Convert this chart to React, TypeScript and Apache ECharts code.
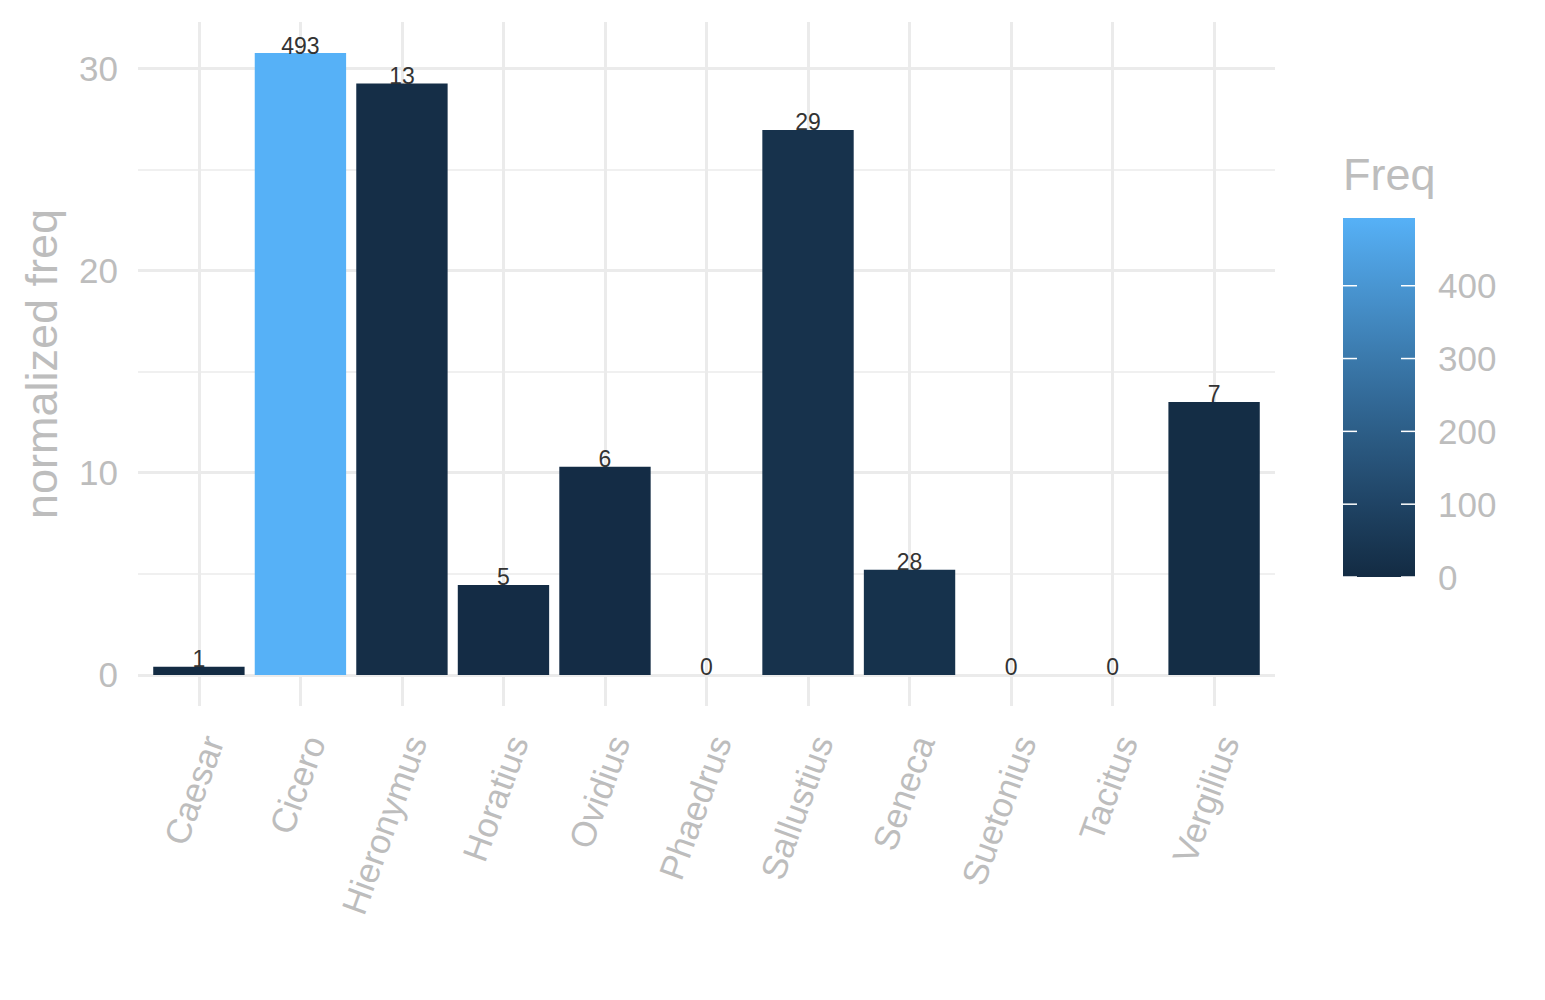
import React, { useEffect, useRef } from 'react';
import * as echarts from 'echarts';

const authors = ['Caesar', 'Cicero', 'Hieronymus', 'Horatius', 'Ovidius', 'Phaedrus', 'Sallustius', 'Seneca', 'Suetonius', 'Tacitus', 'Vergilius'];
const normFreq = [0.4, 30.75, 29.25, 4.45, 10.3, 0, 26.95, 5.2, 0, 0, 13.5];
const freq = [1, 493, 13, 5, 6, 0, 29, 28, 0, 0, 7];
const yTicks = [0, 10, 20, 30];
const yMinorTicks = [5, 15, 25];
const legendTicks = [0, 100, 200, 300, 400];

const LOW = '#132B43';
const HIGH = '#56B1F7';
const GREY = '#BDBDBD';
const GRID = '#EBEBEB';
const FONT = '"Liberation Sans", Arial, Helvetica, sans-serif';

function hexToRgb(h: string) {
  const n = parseInt(h.slice(1), 16);
  return [(n >> 16) & 255, (n >> 8) & 255, n & 255];
}
function toLin(c: number) {
  c /= 255;
  return c <= 0.04045 ? c / 12.92 : Math.pow((c + 0.055) / 1.055, 2.4);
}
function fromLin(c: number) {
  const v = c <= 0.0031308 ? 12.92 * c : 1.055 * Math.pow(c, 1 / 2.4) - 0.055;
  return Math.round(Math.max(0, Math.min(1, v)) * 255);
}
function rgbToLab(rgb: number[]) {
  const R = toLin(rgb[0]), G = toLin(rgb[1]), B = toLin(rgb[2]);
  const X = (0.4124 * R + 0.3576 * G + 0.1805 * B) / 0.95047;
  const Y = 0.2126 * R + 0.7152 * G + 0.0722 * B;
  const Z = (0.0193 * R + 0.1192 * G + 0.9505 * B) / 1.08883;
  const f = (t: number) => (t > 0.008856 ? Math.cbrt(t) : 7.787 * t + 16 / 116);
  const fx = f(X), fy = f(Y), fz = f(Z);
  return [116 * fy - 16, 500 * (fx - fy), 200 * (fy - fz)];
}
function labToHex(lab: number[]) {
  const fy = (lab[0] + 16) / 116;
  const fx = fy + lab[1] / 500;
  const fz = fy - lab[2] / 200;
  const inv = (t: number) => (t * t * t > 0.008856 ? t * t * t : (t - 16 / 116) / 7.787);
  const X = inv(fx) * 0.95047, Y = inv(fy), Z = inv(fz) * 1.08883;
  const R = 3.2406 * X - 1.5372 * Y - 0.4986 * Z;
  const G = -0.9689 * X + 1.8758 * Y + 0.0415 * Z;
  const B = 0.0557 * X - 0.204 * Y + 1.057 * Z;
  const h = (v: number) => fromLin(v).toString(16).padStart(2, '0');
  return '#' + h(R) + h(G) + h(B);
}
const labLow = rgbToLab(hexToRgb(LOW));
const labHigh = rgbToLab(hexToRgb(HIGH));
const gradientStops: string[] = [];
for (let i = 0; i <= 10; i++) {
  const t = i / 10;
  gradientStops.push(labToHex(labLow.map((v, k) => v + (labHigh[k] - v) * t)));
}

export default function App() {
  const ref = useRef<HTMLDivElement>(null);
  useEffect(() => {
    if (!ref.current) return;
    const chart = echarts.init(ref.current, undefined, { renderer: 'svg' });

    const dataMax = Math.max(...normFreq);
    const yMin = -0.05 * dataMax;
    const yMax = dataMax * 1.05;
    const fMin = Math.min(...freq);
    const fMax = Math.max(...freq);
    const idx = authors.map((_, i) => i);

    // colorbar geometry
    const cbX = 1343, cbY = 218, cbW = 72, cbH = 359;
    const cbYOf = (v: number) => cbY + cbH - ((v - fMin) / (fMax - fMin)) * cbH;

    const graphics: any[] = [
      {
        type: 'text', left: cbX, top: 152,
        style: { text: 'Freq', fontSize: 45, fill: GREY, fontFamily: FONT },
      },
      {
        type: 'rect', shape: { x: cbX, y: cbY, width: cbW, height: cbH },
        style: {
          fill: {
            type: 'linear', x: 0, y: 0, x2: 0, y2: 1,
            colorStops: gradientStops.slice().reverse().map((c, i) => ({ offset: i / 10, color: c })),
          },
        },
      },
    ];
    legendTicks.forEach((v) => {
      const y = cbYOf(v);
      graphics.push({ type: 'line', shape: { x1: cbX, y1: y, x2: cbX + 14, y2: y }, style: { stroke: '#ffffff', lineWidth: 1.5 } });
      graphics.push({ type: 'line', shape: { x1: cbX + cbW - 14, y1: y, x2: cbX + cbW, y2: y }, style: { stroke: '#ffffff', lineWidth: 1.5 } });
      graphics.push({
        type: 'text', x: 1438, y,
        style: { text: String(v), fontSize: 35, fill: GREY, fontFamily: FONT, verticalAlign: 'middle', align: 'left' },
      });
    });

    const gridLines: any[] = [];
    yTicks.forEach((v) => gridLines.push({ yAxis: v, lineStyle: { color: GRID, width: 3, type: 'solid' } }));
    yMinorTicks.forEach((v) => gridLines.push({ yAxis: v, lineStyle: { color: GRID, width: 1.5, type: 'solid' } }));
    idx.forEach((i) => gridLines.push({ xAxis: i, lineStyle: { color: GRID, width: 3, type: 'solid' } }));

    chart.setOption({
      animation: false,
      backgroundColor: '#ffffff',
      textStyle: { fontFamily: FONT },
      grid: { left: 138, right: 270, top: 22, bottom: 294, containLabel: false },
      visualMap: {
        show: false,
        type: 'continuous',
        dimension: 2,
        seriesIndex: 0,
        min: fMin,
        max: fMax,
        inRange: { color: gradientStops },
      },
      xAxis: {
        type: 'value',
        min: -0.6,
        max: authors.length - 1 + 0.6,
        axisLine: { show: false },
        axisTick: { show: false },
        splitLine: { show: false },
        axisLabel: {
          customValues: idx,
          formatter: (v: number) => authors[Math.round(v)] ?? '',
          rotate: 70,
          fontSize: 35,
          lineHeight: 30,
          color: GREY,
          margin: 26,
          verticalAlign: 'top',
          fontFamily: FONT,
        },
      },
      yAxis: {
        type: 'value',
        min: yMin,
        max: yMax,
        axisLine: { show: false },
        axisTick: { show: false },
        splitLine: { show: false },
        axisLabel: {
          customValues: yTicks,
          fontSize: 35,
          color: GREY,
          margin: 20,
          fontFamily: FONT,
        },
        name: 'normalized freq',
        nameLocation: 'middle',
        nameGap: 74,
        nameTextStyle: { fontSize: 45, color: GREY, fontFamily: FONT },
      },
      graphic: graphics,
      series: [
        {
          type: 'bar',
          z: 2,
          barWidth: '90%',
          encode: { x: 0, y: 1 },
          data: idx.map((i) => [i, normFreq[i], freq[i]]),
          label: {
            show: true,
            position: 'top',
            distance: -4,
            fontSize: 23,
            color: '#333333',
            fontFamily: FONT,
            formatter: (p: any) => String(p.value[2]),
          },
        },
        {
          type: 'line',
          data: [],
          z: 1,
          silent: true,
          markLine: {
            z: 1,
            silent: true,
            symbol: ['none', 'none'],
            label: { show: false },
            data: gridLines,
          },
        },
      ],
    });
    return () => chart.dispose();
  }, []);
  return <div ref={ref} style={{ position: 'fixed', left: 0, top: 0, width: 1545, height: 1000 }} />;
}
